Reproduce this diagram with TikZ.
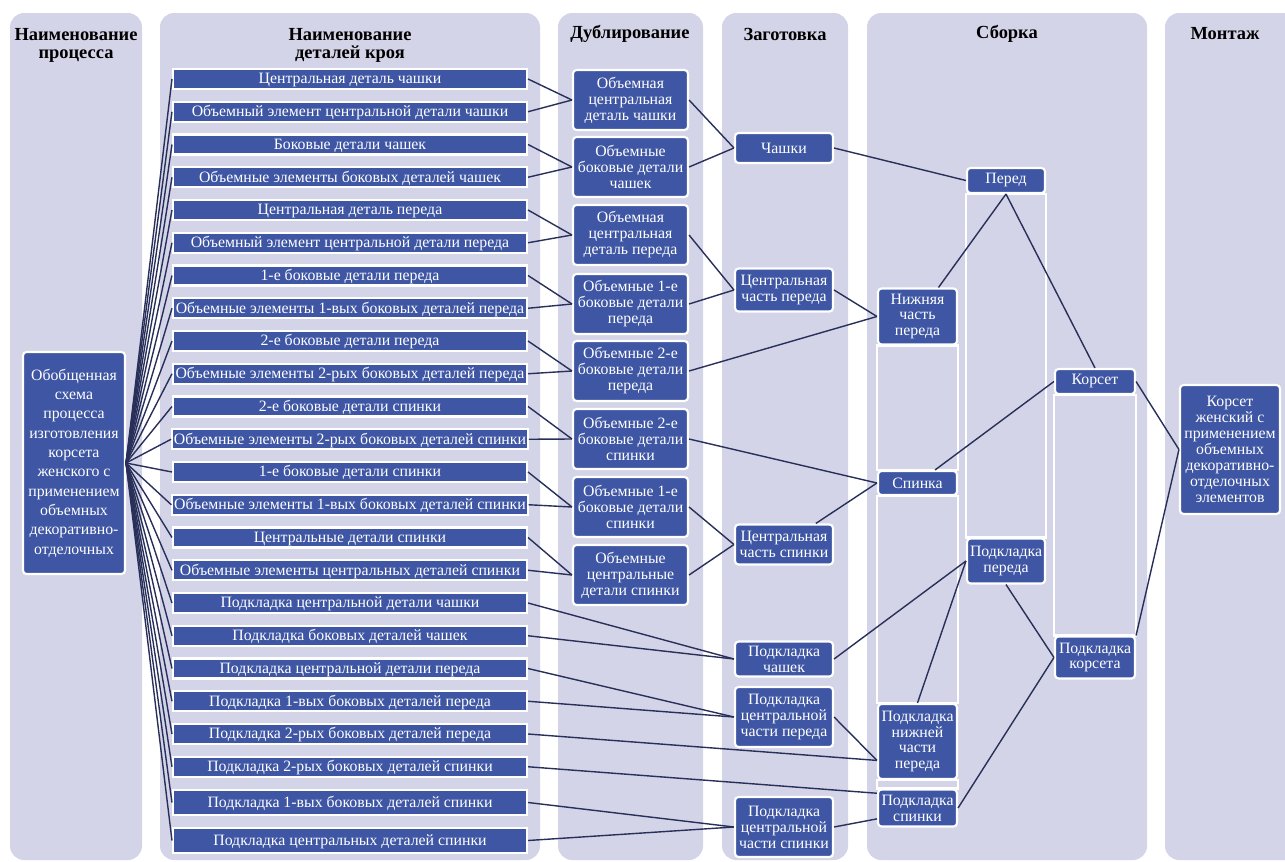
\documentclass[tikz,border=0pt]{standalone}
\usepackage{fontspec}
\setmainfont{Liberation Serif}
\definecolor{lanefill}{RGB}{212,212,232}
\definecolor{boxblue}{RGB}{62,86,163}
\definecolor{linecol}{RGB}{40,48,90}

\begin{document}
\begin{tikzpicture}[x=0.02cm,y=-0.02cm,thick,
  lane/.style={fill=lanefill,rounded corners=8pt},
  head/.style={align=center,text=black,font=\bfseries\fontsize{10.5}{10.2}\selectfont},
  blue box/.style={draw=white,line width=1.2pt,fill=boxblue,text=white,inner sep=1pt,
    font=\fontsize{9}{9.1}\selectfont},
  main node/.style={blue box,align=center,rounded corners=2pt},
  part node/.style={blue box,minimum width=7.08cm,minimum height=0.4cm,text height=7pt,text depth=1.4pt},
  dub node/.style={main node,minimum width=2.3cm,minimum height=1.2cm},
  zag node/.style={main node,minimum width=1.96cm},
  asm node/.style={main node,minimum width=1.58cm},
  frame/.style={draw=white,line width=1.2pt},
  conn/.style={color=linecol,line width=0.8pt}]

  \useasboundingbox (0,0) rectangle (1285,862);

  % lanes
  \fill[lane] (10,13) rectangle (142,860);
  \fill[lane] (160,13) rectangle (540,860);
  \fill[lane] (558,13) rectangle (703,860);
  \fill[lane] (722,13) rectangle (848,860);
  \fill[lane] (867,13) rectangle (1147,860);
  \fill[lane] (1165,13) rectangle (1310,860);

  \node[head] (h1) at (76,45) {Наименование\\процесса};
  \node[head] (h2) at (350,45) {Наименование\\деталей кроя};
  \node[head] (h3) at (630,34) {Дублирование};
  \node[head] (h4) at (785,34) {Заготовка};
  \node[head] (h5) at (1007,34) {Сборка};
  \node[head] (h6) at (1225,34) {Монтаж};

  \node[main node,minimum width=2.04cm,minimum height=4.44cm,font=\fontsize{9}{11}\selectfont] (gen) at (74,463)
    {Обобщенная\\схема\\процесса\\изготовления\\корсета\\женского с\\применением\\объемных\\декоративно-\\отделочных};

  % details of the cut
  \node[part node] (r1) at (350,79) {Центральная деталь чашки};
  \node[part node] (r2) at (350,111.75) {Объемный элемент центральной детали чашки};
  \node[part node] (r3) at (350,144.5) {Боковые детали чашек};
  \node[part node] (r4) at (350,177.25) {Объемные элементы боковых деталей чашек};
  \node[part node] (r5) at (350,210) {Центральная деталь переда};
  \node[part node] (r6) at (350,242.75) {Объемный элемент центральной детали переда};
  \node[part node] (r7) at (350,275.5) {1-е боковые детали переда};
  \node[part node] (r8) at (350,308.25) {Объемные элементы 1-вых боковых деталей переда};
  \node[part node] (r9) at (350,341) {2-е боковые детали переда};
  \node[part node] (r10) at (350,373.75) {Объемные элементы 2-рых боковых деталей переда};
  \node[part node] (r11) at (350,406.5) {2-е боковые детали спинки};
  \node[part node] (r12) at (350,439.25) {Объемные элементы 2-рых боковых деталей спинки};
  \node[part node] (r13) at (350,472) {1-е боковые детали спинки};
  \node[part node] (r14) at (350,504.75) {Объемные элементы 1-вых боковых деталей спинки};
  \node[part node] (r15) at (350,537.5) {Центральные детали спинки};
  \node[part node] (r16) at (350,570.25) {Объемные элементы центральных деталей спинки};
  \node[part node] (r17) at (350,603) {Подкладка центральной детали чашки};
  \node[part node] (r18) at (350,635.75) {Подкладка боковых деталей чашек};
  \node[part node] (r19) at (350,668.5) {Подкладка центральной детали переда};
  \node[part node] (r20) at (350,701.25) {Подкладка 1-вых боковых деталей переда};
  \node[part node] (r21) at (350,734) {Подкладка 2-рых боковых деталей переда};
  \node[part node] (r22) at (350,766.75) {Подкладка 2-рых боковых деталей спинки};
  \node[part node,minimum height=0.5cm] (r23) at (350,802.5) {Подкладка 1-вых боковых деталей спинки};
  \node[part node,minimum height=0.5cm] (r24) at (350,840.5) {Подкладка центральных деталей спинки};

  % doubling
  \node[dub node] (d1) at (630.5,100) {Объемная\\центральная\\деталь чашки};
  \node[dub node] (d2) at (630.5,167) {Объемные\\боковые детали\\чашек};
  \node[dub node] (d3) at (630.5,235) {Объемная\\центральная\\деталь переда};
  \node[dub node] (d4) at (630.5,304) {Объемные 1-е\\боковые детали\\переда};
  \node[dub node] (d5) at (630.5,371) {Объемные 2-е\\боковые детали\\переда};
  \node[dub node] (d6) at (630.5,439) {Объемные 2-е\\боковые детали\\спинки};
  \node[dub node] (d7) at (630.5,507) {Объемные 1-е\\боковые детали\\спинки};
  \node[dub node] (d8) at (630.5,575) {Объемные\\центральные\\детали спинки};

  % blanks
  \node[zag node,minimum height=0.6cm] (z1) at (784,148) {Чашки};
  \node[zag node,minimum height=0.86cm] (z2) at (784,290) {Центральная\\часть переда};
  \node[zag node,minimum height=0.8cm] (z3) at (784,544.5) {Центральная\\часть спинки};
  \node[zag node,minimum height=0.7cm] (z4) at (784,659) {Подкладка\\чашек};
  \node[zag node,minimum height=1.2cm] (z5) at (784,717) {Подкладка\\центральной\\части переда};
  \node[zag node,minimum height=1.2cm] (z6) at (784,827) {Подкладка\\центральной\\части спинки};

  % assembly
  \node[asm node,minimum width=1.56cm,minimum height=0.5cm] (s1) at (1006,180.5) {Перед};
  \node[asm node,minimum height=1.12cm] (s2) at (917.5,316.5) {Нижняя\\часть\\переда};
  \node[asm node,minimum height=0.48cm] (s3) at (917.5,483) {Спинка};
  \node[asm node,minimum width=1.56cm,minimum height=0.9cm] (s4) at (1006,561) {Подкладка\\переда};
  \node[asm node,minimum height=1.5cm] (s5) at (917.5,741.5) {Подкладка\\нижней\\части\\переда};
  \node[asm node,minimum height=0.74cm] (s6) at (917.5,808) {Подкладка\\спинки};
  \node[asm node,minimum width=1.6cm,minimum height=0.5cm] (s7) at (1095,381.5) {Корсет};
  \node[asm node,minimum width=1.6cm,minimum height=0.84cm] (s8) at (1095,657.5) {Подкладка\\корсета};

  \node[main node,minimum width=2cm,minimum height=2.58cm] (fin) at (1230,449.5)
    {Корсет\\женский с\\применением\\объемных\\декоративно-\\отделочных\\элементов};

  \draw[frame] (s1.south west) rectangle (s4.north east);
  \draw[frame] (s2.south west) rectangle (s3.north east);
  \draw[frame] (s3.south west) rectangle (s5.north east);
  \draw[frame] (s5.south west) rectangle (s6.north east);
  \draw[frame] (s7.south west) rectangle (s8.north east);

  \path[conn]
    (gen.east) edge (r1.west)
    (gen.east) edge (r2.west)
    (gen.east) edge (r3.west)
    (gen.east) edge (r4.west)
    (gen.east) edge (r5.west)
    (gen.east) edge (r6.west)
    (gen.east) edge (r7.west)
    (gen.east) edge (r8.west)
    (gen.east) edge (r9.west)
    (gen.east) edge (r10.west)
    (gen.east) edge (r11.west)
    (gen.east) edge (r12.west)
    (gen.east) edge (r13.west)
    (gen.east) edge (r14.west)
    (gen.east) edge (r15.west)
    (gen.east) edge (r16.west)
    (gen.east) edge (r17.west)
    (gen.east) edge (r18.west)
    (gen.east) edge (r19.west)
    (gen.east) edge (r20.west)
    (gen.east) edge (r21.west)
    (gen.east) edge (r22.west)
    (gen.east) edge (r23.west)
    (gen.east) edge (r24.west)
    (r1.east) edge (d1.west)
    (r2.east) edge (d1.west)
    (r3.east) edge (d2.west)
    (r4.east) edge (d2.west)
    (r5.east) edge (d3.west)
    (r6.east) edge (d3.west)
    (r7.east) edge (d4.west)
    (r8.east) edge (d4.west)
    (r9.east) edge (d5.west)
    (r10.east) edge (d5.west)
    (r11.east) edge (d6.west)
    (r12.east) edge (d6.west)
    (r13.east) edge (d7.west)
    (r14.east) edge (d7.west)
    (r15.east) edge (d8.west)
    (r16.east) edge (d8.west)
    (r17.east) edge (z4.west)
    (r18.east) edge (z4.west)
    (r19.east) edge (z5.west)
    (r20.east) edge (z5.west)
    (r21.east) edge (s5.205)
    (r22.east) edge (s6.160)
    (r23.east) edge (z6.west)
    (r24.east) edge (z6.west)
    (d1.east) edge (z1.west)
    (d2.east) edge (z1.west)
    (d3.east) edge (z2.west)
    (d4.east) edge (z2.west)
    (d5.east) edge (s2.west)
    (d6.east) edge (s3.west)
    (d7.east) edge (z3.west)
    (d8.east) edge (z3.west)
    (z1.east) edge (s1.west)
    (z2.east) edge (s2.west)
    (z3) edge (s3.west)
    (z4.east) edge (s4.west)
    (z5.east) edge (s5.205)
    (z6.east) edge (s6.195)
    (s2) edge (s1.south)
    (s3) edge (s7.west)
    (s5.north) edge (s4.west)
    (s1.south) edge (s7.north)
    (s4.south) edge (s8.west)
    (s6.east) edge (s8.west)
    (s7.east) edge (fin.west)
    (s8.north east) edge (fin.west)
    ;
\end{tikzpicture}
\end{document}
